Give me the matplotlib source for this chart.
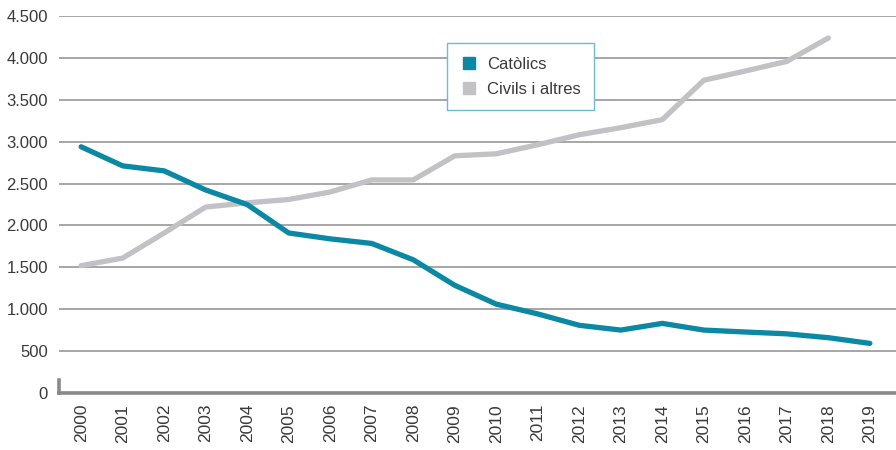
import numpy as np
from matplotlib import pyplot as plt

plt.rcParams['font.family'] = ['Liberation Sans', 'DejaVu Sans']

anys = [str(a) for a in range(2000, 2020)]

catolics = [2940, 2712, 2652, 2424, 2250, 1910, 1840, 1785, 1590, 1285,
            1060, 943, 807, 750, 830, 750, 727, 705, 659, 591]

# civils: no hi ha dada per al 2019
civils = [1520, 1610, 1910, 2220, 2270, 2310, 2400, 2544, 2544, 2832,
          2856, 2964, 3084, 3168, 3264, 3735, 3845, 3960, 4240]

color_cat = "#0b88a3"
color_civ = "#c2c2c6"
color_text = "#3a3a3a"

fig = plt.figure(figsize = (8.96, 4.5), dpi = 100)
ax = fig.add_axes([0.066, 0.127, 0.934, 0.837])

x = np.arange(len(anys))
ax.plot(x[:len(civils)], civils, '-', color = color_civ, lw = 3.8,
        solid_capstyle = 'round', solid_joinstyle = 'round', zorder = 3)
ax.plot(x, catolics, '-', color = color_cat, lw = 3.8,
        solid_capstyle = 'round', solid_joinstyle = 'round', zorder = 4)

ax.set_xlim(-0.53, 19.63)
ax.set_ylim(0, 4500)
ax.set_yticks(np.arange(0, 4501, 500))
ax.set_yticklabels(["0" if v == 0 else f"{v:,}".replace(",", ".") for v in range(0, 4501, 500)])
ax.set_xticks(x)
ax.set_xticklabels(anys, rotation = 90)

ax.grid(axis = 'y', color = "#8e8e8e", lw = 1.1, zorder = 1)
ax.set_axisbelow(True)
ax.tick_params(axis = 'both', length = 0, colors = color_text)
ax.tick_params(axis = 'y', labelsize = 12, pad = 8)
ax.tick_params(axis = 'x', labelsize = 12.5, pad = 8)

for s in ['top', 'right']:
    ax.spines[s].set_visible(False)
ax.spines['bottom'].set_color("#8a8a8a")
ax.spines['bottom'].set_linewidth(2.6)
ax.spines['left'].set_color("#8a8a8a")
ax.spines['left'].set_linewidth(2.6)
ax.spines['left'].set_bounds(0, 150)

h1, = ax.plot([], [], 's', color = color_cat, ms = 8, label = "Catòlics")
h2, = ax.plot([], [], 's', color = color_civ, ms = 8, label = "Civils i altres")
leg = ax.legend(handles = [h1, h2], loc = 'upper left', bbox_to_anchor = (0.4636, 0.928),
                borderaxespad = 0, frameon = True, fancybox = False, framealpha = 1,
                edgecolor = "#6bbccd", fontsize = 12, handlelength = 1.0, handletextpad = 0.6,
                borderpad = 0.8, labelspacing = 0.6)
leg.get_frame().set_linewidth(1.0)
for t in leg.get_texts():
    t.set_color(color_text)

plt.savefig("out.png", dpi = 100)
